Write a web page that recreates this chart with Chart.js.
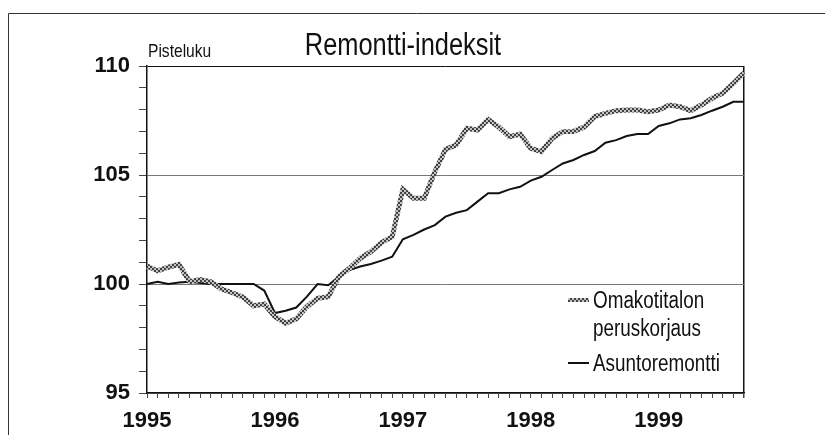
<!DOCTYPE html>
<html>
<head>
<meta charset="utf-8">
<script src="https://cdn.jsdelivr.net/npm/chart.js@4/dist/chart.umd.min.js"></script>
<style>
    html, body { margin: 0; padding: 0; background: #fff; }
    #wrap { position: relative; width: 825px; height: 435px; }
</style>
</head>
<body>
<div id="wrap"><canvas id="chart" width="825" height="435"></canvas></div>
<script>
const years = ['1995', '1996', '1997', '1998', '1999'];
const months = ['01', '02', '03', '04', '05', '06', '07', '08', '09', '10', '11', '12'];
const nMonths = 57; // tammikuu 1995 - syyskuu 1999

const omakotitalo = [
    100.83, 100.6, 100.77, 100.9, 100.1, 100.2, 100.1, 99.77, 99.6, 99.4, 99.0, 99.08,
    98.5, 98.2, 98.4, 98.96, 99.34, 99.42, 100.34, 100.72, 101.18, 101.48, 101.9, 102.17,
    104.34, 103.93, 103.93, 105.15, 106.17, 106.38, 107.14, 107.06, 107.55, 107.2, 106.76, 106.88,
    106.22, 106.07, 106.68, 106.99, 107.0, 107.2, 107.68, 107.83, 107.95, 107.98, 107.98, 107.9,
    107.98, 108.21, 108.13, 107.95, 108.21, 108.52, 108.75, 109.2, 109.69
];
const asuntoremontti = [
    100.0, 100.1, 100.0, 100.07, 100.1, 100.05, 100.0, 100.0, 100.0, 100.0, 100.0, 99.7,
    98.67, 98.77, 98.92, 99.42, 100.0, 99.94, 100.34, 100.64, 100.8, 100.92, 101.07, 101.25,
    102.05, 102.25, 102.5, 102.7, 103.09, 103.27, 103.39, 103.78, 104.16, 104.16, 104.34, 104.46,
    104.74, 104.92, 105.23, 105.53, 105.69, 105.92, 106.1, 106.48, 106.6, 106.79, 106.88, 106.88,
    107.25, 107.37, 107.55, 107.6, 107.75, 107.95, 108.13, 108.36, 108.36
];
const yTickLabels = [95, 100, 105, 110];

const titleText = 'Remontti-indeksit';
const unitText = 'Pisteluku';
const seriesLabels = [['Omakotitalon', 'peruskorjaus'], ['Asuntoremontti']];

const labels = years.flatMap(y => months.map(m => `${y}-${m}`)).slice(0, nMonths);

const FONT = "'Liberation Sans', Arial, sans-serif";
const NARROW = 0.82;

function makePattern() {
    const c = document.createElement('canvas');
    c.width = 4;
    c.height = 4;
    const g = c.getContext('2d');
    g.fillStyle = '#c4c4c4';
    g.fillRect(0, 0, 4, 4);
    g.fillStyle = '#404040';
    g.fillRect(0, 0, 2, 2);
    g.fillRect(2, 2, 2, 2);
    return g.createPattern(c, 'repeat');
}
const greyPattern = makePattern();

// kapea teksti: fillText + maxWidth
function narrowText(ctx, t, x, y) {
    ctx.fillText(t, x, y, ctx.measureText(t).width * NARROW);
}

// kehys, otsikko ja selite
const decorPlugin = {
    id: 'decor',
    beforeDraw(chart) {
        const ctx = chart.ctx;
        ctx.save();
        ctx.fillStyle = '#fff';
        ctx.fillRect(0, 0, chart.width, chart.height);
        ctx.strokeStyle = '#333';
        ctx.lineWidth = 1;
        ctx.beginPath();
        ctx.moveTo(8.5, chart.height);
        ctx.lineTo(8.5, 13.5);
        ctx.lineTo(chart.width, 13.5);
        ctx.stroke();
        ctx.restore();
    },
    afterDraw(chart) {
        const ctx = chart.ctx;
        const area = chart.chartArea;
        ctx.save();
        ctx.fillStyle = '#111';
        ctx.textBaseline = 'alphabetic';

        ctx.font = `31px ${FONT}`;
        ctx.textAlign = 'center';
        narrowText(ctx, titleText, 403, 55);

        ctx.font = `19px ${FONT}`;
        ctx.textAlign = 'left';
        narrowText(ctx, unitText, area.left + 1, 57);

        // selite
        const lx = area.right - 176;
        const tx = area.right - 151;
        ctx.font = `23px ${FONT}`;
        const rows = [
            { y: 300, color: greyPattern, width: 4, lines: seriesLabels[0] },
            { y: 363, color: '#111', width: 2, lines: seriesLabels[1] }
        ];
        rows.forEach(r => {
            ctx.strokeStyle = r.color;
            ctx.lineWidth = r.width;
            ctx.beginPath();
            ctx.moveTo(lx, r.y);
            ctx.lineTo(lx + 21, r.y);
            ctx.stroke();
            r.lines.forEach((t, i) => {
                narrowText(ctx, t, tx, r.y + 8 + i * 28);
            });
        });
        ctx.restore();
    }
};

const ctx = document.getElementById('chart').getContext('2d');
const chart = new Chart(ctx, {
    type: 'line',
    data: {
        labels: labels,
        datasets: [
            {
                label: seriesLabels[0].join(' '),
                data: omakotitalo,
                borderColor: greyPattern,
                borderWidth: 5,
                pointRadius: 0,
                tension: 0,
                fill: false
            },
            {
                label: seriesLabels[1].join(' '),
                data: asuntoremontti,
                borderColor: '#111',
                borderWidth: 2,
                pointRadius: 0,
                tension: 0,
                fill: false
            }
        ]
    },
    options: {
        responsive: false,
        animation: false,
        layout: {
            padding: { top: 66, right: 81, bottom: 0, left: 0 }
        },
        scales: {
            x: {
                type: 'category',
                offset: false,
                afterFit: scale => { scale.height = 42; },
                border: { color: '#111', width: 1.5 },
                grid: {
                    offset: false,
                    drawOnChartArea: true,
                    color: c => (c.index === nMonths - 1 ? '#111' : 'rgba(0,0,0,0)'),
                    lineWidth: c => (c.index === nMonths - 1 ? 1.5 : 1),
                    tickColor: '#444',
                    tickLength: 5
                },
                ticks: {
                    autoSkip: false,
                    maxRotation: 0,
                    padding: 10,
                    color: '#111',
                    font: { family: FONT, size: 22, weight: 'bold' },
                    callback: (val, idx) => (idx % 12 === 0 ? years[idx / 12] : '')
                }
            },
            y: {
                min: 95,
                max: 110,
                afterFit: scale => { scale.width = 147; },
                border: { color: '#111', width: 1.5 },
                grid: {
                    color: c => {
                        const v = c.tick.value;
                        if (v === 110) return '#111';
                        return yTickLabels.includes(v) ? '#777' : 'rgba(0,0,0,0)';
                    },
                    tickColor: '#444',
                    tickLength: 8
                },
                ticks: {
                    stepSize: 1,
                    autoSkip: false,
                    padding: 9,
                    color: '#111',
                    font: { family: FONT, size: 22, weight: 'bold' },
                    callback: v => (yTickLabels.includes(v) ? String(v) : '')
                }
            }
        },
        plugins: {
            legend: { display: false },
            title: { display: false },
            tooltip: { enabled: false }
        }
    },
    plugins: [decorPlugin]
});
</script>
</body>
</html>
